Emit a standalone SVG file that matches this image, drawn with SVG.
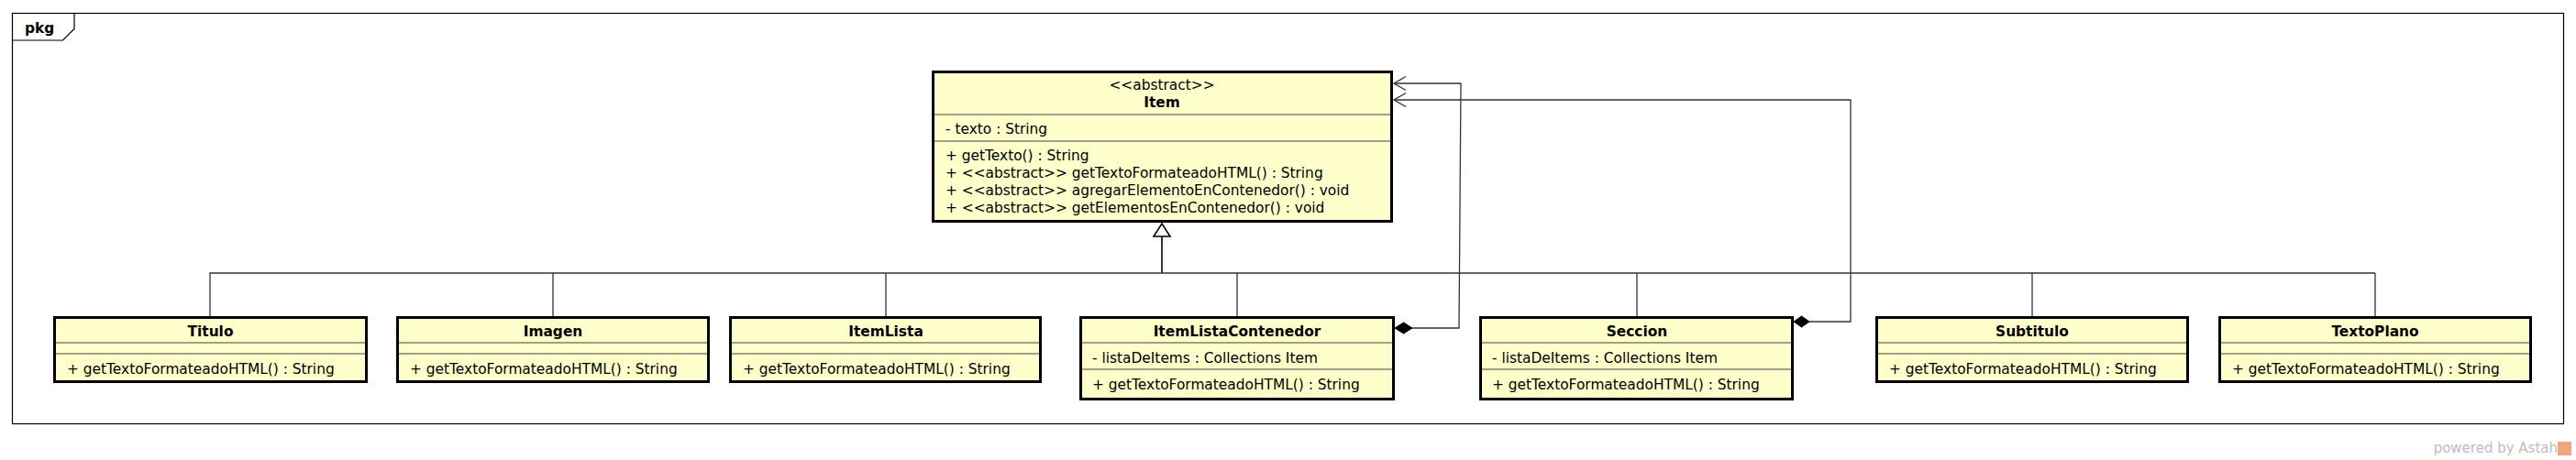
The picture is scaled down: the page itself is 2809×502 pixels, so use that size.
<svg xmlns="http://www.w3.org/2000/svg" width="2809" height="502" viewBox="0 0 2809 502">
<style>
.bg{fill:#fff}
.frame{fill:none;stroke:#000;stroke-width:1.2}
.box{fill:#FFFFCC;stroke:#000;stroke-width:3}
.sep{stroke:#444;stroke-width:1.1}
.t{font-family:"DejaVu Sans",sans-serif;font-size:15.4px;fill:#000}
.n{font-weight:bold;text-anchor:middle}
.m{text-anchor:middle}
.c{fill:none;stroke:#333;stroke-width:1.3}
.tr{fill:#fff;stroke:#000;stroke-width:1.6}
.dia{fill:#000;stroke:#000;stroke-width:1}
.wm{font-family:"DejaVu Sans",sans-serif;font-size:15px;fill:#bdbdbd}
</style>
<rect class="bg" x="0" y="0" width="2809" height="502"/>
<g id="frame">
<rect class="frame" x="13.5" y="14.5" width="2782" height="448"/>
<polyline class="frame" points="13.5,44 68.5,44 81,31.5 81,14.5"/>
<text class="t" x="27" y="36" style="font-weight:bold">pkg</text>
</g>
<g id="connectors">
<polyline class="c" points="229,345 229,298 2590,298"/>
<line class="c" x1="603" y1="298" x2="603" y2="345"/>
<line class="c" x1="966" y1="298" x2="966" y2="345"/>
<line class="c" x1="1349" y1="298" x2="1349" y2="345"/>
<line class="c" x1="1785" y1="298" x2="1785" y2="345"/>
<line class="c" x1="2216" y1="298" x2="2216" y2="345"/>
<line class="c" x1="2590" y1="298" x2="2590" y2="345"/>
<line class="c" x1="1267" y1="258" x2="1267" y2="298" style="stroke-width:2"/>
<polygon class="tr" points="1267,244 1258,258 1276,258"/>
<polyline class="c" points="1540,358 1591,358 1593,91 1520,91"/>
<polyline class="c" points="1533,83.5 1520,91 1533,98.5"/>
<polygon class="dia" points="1521,358 1530.5,352 1540,358 1530.5,364"/>
<polyline class="c" points="1973,351 2018,351 2018,109 1520,109"/>
<polyline class="c" points="1533,101.5 1520,109 1533,116.5"/>
<polygon class="dia" points="1956,351 1964.5,345 1973,351 1964.5,357"/>
</g>
<g id="Item">
<rect class="box" x="1017.5" y="78.5" width="500" height="163"/>
<line class="sep" x1="1019" y1="125" x2="1516" y2="125"/>
<line class="sep" x1="1019" y1="154" x2="1516" y2="154"/>
<text class="t m" x="1267" y="98">&lt;&lt;abstract&gt;&gt;</text>
<text class="t n" x="1267" y="117">Item</text>
<text class="t" x="1031" y="146">- texto : String</text>
<text class="t" x="1031" y="175">+ getTexto() : String</text>
<text class="t" x="1031" y="194">+ &lt;&lt;abstract&gt;&gt; getTextoFormateadoHTML() : String</text>
<text class="t" x="1031" y="213">+ &lt;&lt;abstract&gt;&gt; agregarElementoEnContenedor() : void</text>
<text class="t" x="1031" y="232">+ &lt;&lt;abstract&gt;&gt; getElementosEnContenedor() : void</text>
</g>
<g id="Titulo">
<rect class="box" x="59.5" y="346.5" width="340" height="70"/>
<line class="sep" x1="61" y1="374" x2="398" y2="374"/>
<line class="sep" x1="61" y1="386" x2="398" y2="386"/>
<text class="t n" x="229.5" y="367">Titulo</text>
<text class="t" x="73" y="407.5">+ getTextoFormateadoHTML() : String</text>
</g>
<g id="Imagen">
<rect class="box" x="433.5" y="346.5" width="339" height="70"/>
<line class="sep" x1="435" y1="374" x2="771" y2="374"/>
<line class="sep" x1="435" y1="386" x2="771" y2="386"/>
<text class="t n" x="603" y="367">Imagen</text>
<text class="t" x="447" y="407.5">+ getTextoFormateadoHTML() : String</text>
</g>
<g id="ItemLista">
<rect class="box" x="796.5" y="346.5" width="338" height="70"/>
<line class="sep" x1="798" y1="374" x2="1133" y2="374"/>
<line class="sep" x1="798" y1="386" x2="1133" y2="386"/>
<text class="t n" x="966" y="367">ItemLista</text>
<text class="t" x="810" y="407.5">+ getTextoFormateadoHTML() : String</text>
</g>
<g id="ItemListaContenedor">
<rect class="box" x="1178.5" y="346.5" width="341" height="89"/>
<line class="sep" x1="1180" y1="374" x2="1518" y2="374"/>
<line class="sep" x1="1180" y1="403" x2="1518" y2="403"/>
<text class="t n" x="1349" y="367">ItemListaContenedor</text>
<text class="t" x="1191" y="396">- listaDeItems : Collections Item</text>
<text class="t" x="1191" y="425">+ getTextoFormateadoHTML() : String</text>
</g>
<g id="Seccion">
<rect class="box" x="1614.5" y="346.5" width="340" height="89"/>
<line class="sep" x1="1616" y1="374" x2="1953" y2="374"/>
<line class="sep" x1="1616" y1="403" x2="1953" y2="403"/>
<text class="t n" x="1785" y="367">Seccion</text>
<text class="t" x="1627" y="396">- listaDeItems : Collections Item</text>
<text class="t" x="1627" y="425">+ getTextoFormateadoHTML() : String</text>
</g>
<g id="Subtitulo">
<rect class="box" x="2046.5" y="346.5" width="339" height="70"/>
<line class="sep" x1="2048" y1="374" x2="2384" y2="374"/>
<line class="sep" x1="2048" y1="386" x2="2384" y2="386"/>
<text class="t n" x="2216" y="367">Subtitulo</text>
<text class="t" x="2060" y="407.5">+ getTextoFormateadoHTML() : String</text>
</g>
<g id="TextoPlano">
<rect class="box" x="2420.5" y="346.5" width="339" height="70"/>
<line class="sep" x1="2422" y1="374" x2="2758" y2="374"/>
<line class="sep" x1="2422" y1="386" x2="2758" y2="386"/>
<text class="t n" x="2590" y="367">TextoPlano</text>
<text class="t" x="2434" y="407.5">+ getTextoFormateadoHTML() : String</text>
</g>
<g id="watermark">
<text class="wm" x="2789" y="494" text-anchor="end">powered by Astah</text>
<rect x="2789" y="482" width="15" height="15" fill="#f0a57e"/>
</g>
</svg>
